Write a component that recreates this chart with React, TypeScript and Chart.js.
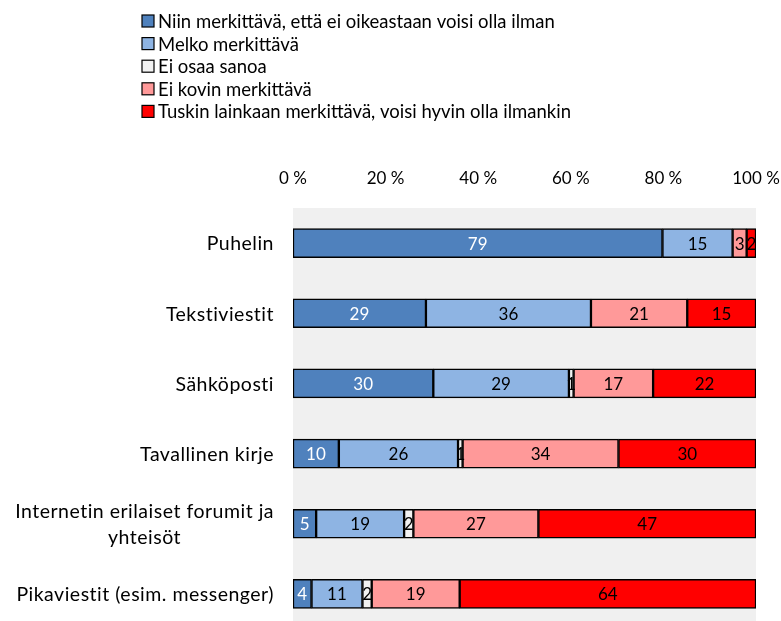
import React, { useEffect, useRef } from "react";
import { Chart, registerables } from "chart.js";

Chart.register(...registerables);

const categories: (string | string[])[] = [
  "Puhelin",
  "Tekstiviestit",
  "Sähköposti",
  "Tavallinen kirje",
  ["Internetin erilaiset forumit ja", "yhteisöt"],
  "Pikaviestit (esim. messenger)",
];

const seriesNames = [
  "Niin merkittävä, että ei oikeastaan voisi olla ilman",
  "Melko merkittävä",
  "Ei osaa sanoa",
  "Ei kovin merkittävä",
  "Tuskin lainkaan merkittävä, voisi hyvin olla ilmankin",
];

const niinMerkittava = [79, 29, 30, 10, 5, 4];
const melkoMerkittava = [15, 36, 29, 26, 19, 11];
const eiOsaaSanoa = [0, 0, 1, 1, 2, 2];
const eiKovinMerkittava = [3, 21, 17, 34, 27, 19];
const tuskinLainkaan = [2, 15, 22, 30, 47, 64];

const tickLabels = ["0 %", "20 %", "40 %", "60 %", "80 %", "100 %"];

const seriesColors = ["#4F81BD", "#8EB4E3", "#F2F2F2", "#FF9999", "#FF0000"];
const labelColors = ["#FFFFFF", "#000000", "#000000", "#000000", "#000000"];

const FONT = "Lato, 'Open Sans', sans-serif";

const rawSeries = [niinMerkittava, melkoMerkittava, eiOsaaSanoa, eiKovinMerkittava, tuskinLainkaan];

export default function App() {
  const ref = useRef<HTMLCanvasElement | null>(null);

  useEffect(() => {
    if (!ref.current) return;
    const totals = categories.map((_, i) => rawSeries.reduce((s, arr) => s + arr[i], 0));

    const bgPlugin = {
      id: "bgPlugin",
      beforeDraw(chart: any) {
        const { ctx, chartArea } = chart;
        ctx.save();
        ctx.fillStyle = "#F0F0F0";
        ctx.fillRect(chartArea.left, chartArea.top, chartArea.right - chartArea.left, chartArea.bottom - chartArea.top);
        ctx.restore();
      },
    };

    const labelsPlugin = {
      id: "labelsPlugin",
      afterDatasetsDraw(chart: any) {
        const { ctx } = chart;
        ctx.save();
        ctx.font = `17px ${FONT}`;
        ctx.textAlign = "center";
        ctx.textBaseline = "middle";
        chart.data.datasets.forEach((ds: any, di: number) => {
          const meta = chart.getDatasetMeta(di);
          meta.data.forEach((bar: any, i: number) => {
            const v = rawSeries[di][i];
            if (!v) return;
            ctx.fillStyle = labelColors[di];
            ctx.fillText(String(v), (bar.x + bar.base) / 2, bar.y + 1);
          });
        });
        ctx.restore();
      },
      afterDraw(chart: any) {
        const { ctx } = chart;
        const yScale = chart.scales.y;
        ctx.save();
        ctx.font = `19.5px ${FONT}`;
        (ctx as any).letterSpacing = "0.5px";
        ctx.fillStyle = "#000";
        ctx.textBaseline = "middle";
        const rightX = 274;
        categories.forEach((c, i) => {
          const y = yScale.getPixelForValue(i);
          const lines = Array.isArray(c) ? c : [c];
          const lh = 26;
          const maxW = Math.max(...lines.map((l) => ctx.measureText(l).width));
          lines.forEach((l, li) => {
            const ly = y + (li - (lines.length - 1) / 2) * lh + 1;
            if (lines.length > 1) {
              ctx.textAlign = "center";
              ctx.fillText(l, rightX - maxW / 2, ly);
            } else {
              ctx.textAlign = "right";
              ctx.fillText(l, rightX, ly);
            }
          });
        });
        (ctx as any).letterSpacing = "0px";
        // legend
        ctx.font = `18.5px ${FONT}`;
        ctx.textAlign = "left";
        chart.data.datasets.forEach((ds: any, di: number) => {
          const y = 21 + di * 22.6;
          ctx.fillStyle = seriesColors[di];
          ctx.fillRect(142, y - 6, 12, 12);
          ctx.strokeStyle = "#000";
          ctx.lineWidth = 1.2;
          ctx.strokeRect(142, y - 6, 12, 12);
          ctx.fillStyle = "#000";
          ctx.fillText(ds.label, 158, y + 1);
        });
        ctx.restore();
      },
    };

    const chart = new Chart(ref.current, {
      type: "bar",
      data: {
        labels: categories.map((c) => (Array.isArray(c) ? c.join(" ") : c)),
        datasets: seriesNames.map((name, di) => ({
          label: name,
          data: rawSeries[di].map((v, i) => (v / totals[i]) * 100),
          backgroundColor: seriesColors[di],
          borderColor: "#000000",
          borderWidth: 1.5,
          borderSkipped: false,
          barThickness: 29,
        })),
      },
      options: {
        indexAxis: "y",
        responsive: false,
        animation: false,
        layout: { padding: { left: 0, right: 25, top: 0, bottom: 11 } },
        plugins: {
          legend: { display: false },
          tooltip: { enabled: false },
          title: { display: false },
        },
        scales: {
          x: {
            position: "top",
            stacked: true,
            min: 0,
            max: 100,
            grid: { display: false },
            border: { display: false },
            ticks: {
              stepSize: 20,
              padding: 11,
              color: "#000",
              maxRotation: 0,
              font: { family: FONT, size: 17 },
              callback: (_v: any, idx: number) => tickLabels[idx],
            },
            afterFit: (s: any) => {
              s.height = 208;
              s.paddingLeft = 0;
              s.paddingRight = 0;
            },
          },
          y: {
            stacked: true,
            grid: { display: false },
            border: { display: false },
            ticks: { display: false },
            afterFit: (s: any) => {
              s.width = 293;
              s.paddingTop = 0;
              s.paddingBottom = 0;
            },
          },
        },
      },
      plugins: [bgPlugin, labelsPlugin],
    });
    return () => chart.destroy();
  }, []);

  return (
    <div style={{ position: "fixed", left: 0, top: 0, width: 781, height: 621, overflow: "hidden", background: "#fff" }}>
      <canvas ref={ref} width={781} height={640} style={{ display: "block" }} />
    </div>
  );
}
